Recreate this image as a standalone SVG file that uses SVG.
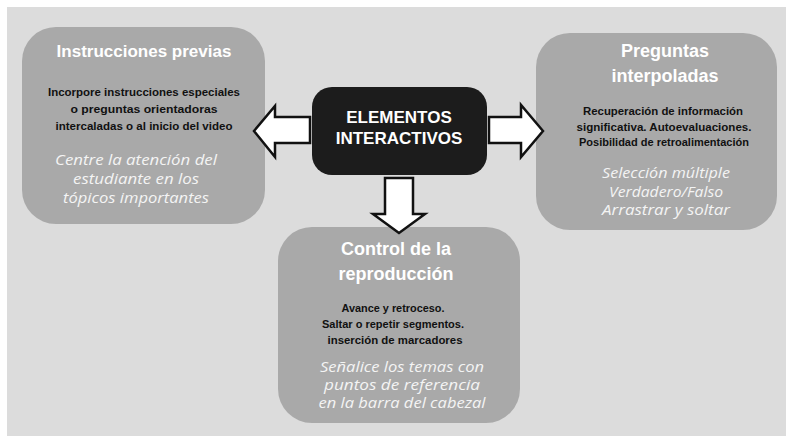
<svg xmlns="http://www.w3.org/2000/svg" width="786" height="436" viewBox="0 0 786 436">
<style>
.box{fill:#a9a9a9}
.title{font-family:"Liberation Sans",Arial,sans-serif;font-weight:bold;fill:#ffffff;text-anchor:middle}
.body{font-family:"Liberation Sans Narrow","Liberation Sans",Arial,sans-serif;font-weight:bold;font-size:11px;fill:#111111;text-anchor:middle}
.ital{font-family:"Open Sans","DejaVu Sans",sans-serif;font-style:italic;font-size:14px;fill:#f4f4f4;text-anchor:middle}
.arrow{fill:#ffffff;stroke:#111111;stroke-width:2.5;stroke-linejoin:miter}
</style>
<rect x="0" y="0" width="786" height="436" fill="#ffffff"/>
<rect x="7" y="7" width="779" height="429" fill="#dcdcdc"/>

<g id="node-instrucciones">
<rect class="box" x="22" y="27" width="243" height="197" rx="34"/>
<text class="title" x="144" y="57" font-size="17">Instrucciones previas</text>
<text class="body" x="144" y="96" textLength="192" lengthAdjust="spacingAndGlyphs">Incorpore instrucciones especiales</text>
<text class="body" x="144" y="113" textLength="147" lengthAdjust="spacingAndGlyphs">o preguntas orientadoras</text>
<text class="body" x="144" y="130" textLength="177" lengthAdjust="spacingAndGlyphs">intercaladas o al inicio del video</text>
<text class="ital" x="136" y="165" textLength="162" lengthAdjust="spacingAndGlyphs">Centre la atención del</text>
<text class="ital" x="136" y="184" textLength="126" lengthAdjust="spacingAndGlyphs">estudiante en los</text>
<text class="ital" x="136" y="203" textLength="146" lengthAdjust="spacingAndGlyphs">tópicos importantes</text>
</g>

<g id="node-preguntas">
<rect class="box" x="536" y="33" width="241" height="197" rx="34"/>
<text class="title" x="665" y="57" font-size="18">Preguntas</text>
<text class="title" x="665" y="82" font-size="18">interpoladas</text>
<text class="body" x="663" y="115" textLength="160" lengthAdjust="spacingAndGlyphs">Recuperación de información</text>
<text class="body" x="664" y="131" textLength="175" lengthAdjust="spacingAndGlyphs">significativa. Autoevaluaciones.</text>
<text class="body" x="664" y="146" textLength="170" lengthAdjust="spacingAndGlyphs">Posibilidad de retroalimentación</text>
<text class="ital" x="666" y="178" textLength="128" lengthAdjust="spacingAndGlyphs">Selección múltiple</text>
<text class="ital" x="666" y="197" textLength="114" lengthAdjust="spacingAndGlyphs">Verdadero/Falso</text>
<text class="ital" x="666" y="215" textLength="128" lengthAdjust="spacingAndGlyphs">Arrastrar y soltar</text>
</g>

<g id="node-control">
<rect class="box" x="278" y="227" width="242" height="196" rx="34"/>
<text class="title" x="396" y="255" font-size="18">Control de la</text>
<text class="title" x="396" y="280" font-size="18">reproducción</text>
<text class="body" x="393" y="312" textLength="103" lengthAdjust="spacingAndGlyphs">Avance y retroceso.</text>
<text class="body" x="393" y="328" textLength="142" lengthAdjust="spacingAndGlyphs">Saltar o repetir segmentos.</text>
<text class="body" x="395" y="344" textLength="135" lengthAdjust="spacingAndGlyphs">inserción de marcadores</text>
<text class="ital" x="402" y="372" textLength="164" lengthAdjust="spacingAndGlyphs">Señalice los temas con</text>
<text class="ital" x="402" y="390" textLength="156" lengthAdjust="spacingAndGlyphs">puntos de referencia</text>
<text class="ital" x="402" y="408" textLength="167" lengthAdjust="spacingAndGlyphs">en la barra del cabezal</text>
</g>

<g id="connectors">
<polygon class="arrow" points="254,131 275,106 275,117 310,117 310,143 275,143 275,157"/>
<polygon class="arrow" points="543,131 521,105 521,117 489,117 489,143 521,143 521,157"/>
<polygon class="arrow" points="399,233 373,214 385,214 385,178 413,178 413,214 425,214"/>
</g>

<g id="node-elementos">
<rect x="312" y="87" width="175" height="88" rx="20" fill="#1c1c1c"/>
<text class="title" x="399" y="123" font-size="17">ELEMENTOS</text>
<text class="title" x="399" y="144" font-size="17">INTERACTIVOS</text>
</g>
</svg>
